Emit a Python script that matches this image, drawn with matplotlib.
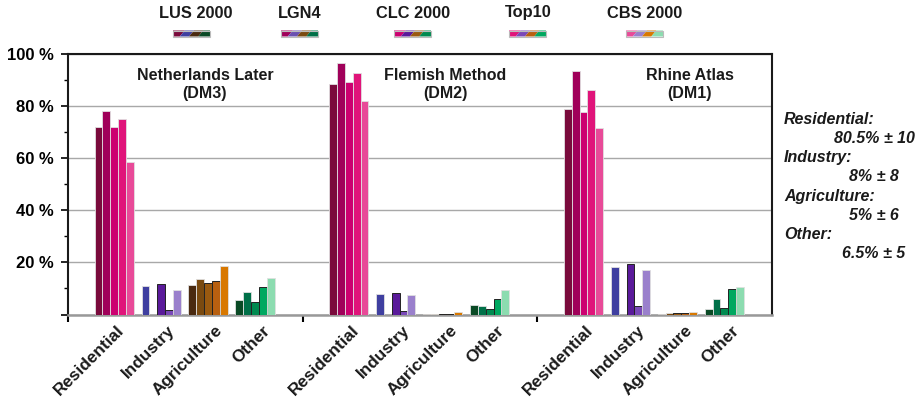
import numpy as np
import matplotlib.pyplot as plt
from matplotlib.patches import Polygon, Rectangle

plt.rcParams['font.family'] = ['Liberation Sans', 'DejaVu Sans']
plt.rcParams['font.weight'] = 'bold'

#___________________________ DATA ___________________________#
sources = ['LUS 2000', 'LGN4', 'CLC 2000', 'Top10', 'CBS 2000']
categories = ['Residential', 'Industry', 'Agriculture', 'Other']
methods = ['Netherlands Later\n(DM3)', 'Flemish Method\n(DM2)', 'Rhine Atlas\n(DM1)']

# values in %, one list per category, in the order of sources
dm3 = [[71.7, 77.9, 71.7, 74.9, 58.4],
       [11.0, 0.0, 11.7, 1.7, 9.4],
       [11.3, 13.6, 12.1, 12.7, 18.6],
       [5.6, 8.6, 4.8, 10.7, 13.9]]
dm2 = [[88.3, 96.2, 89.0, 92.5, 81.9],
       [7.7, 0.0, 8.2, 1.3, 7.5],
       [0.2, 0.3, 0.3, 0.3, 1.0],
       [3.8, 3.3, 2.1, 6.1, 9.4]]
dm1 = [[78.6, 93.4, 77.6, 86.1, 71.6],
       [18.3, 0.0, 19.3, 3.1, 17.2],
       [0.3, 0.7, 0.7, 0.7, 0.8],
       [2.2, 5.8, 2.5, 9.8, 10.4]]
all_methods = [dm3, dm2, dm1]

summary_heads = ['Residential:', 'Industry:', 'Agriculture:', 'Other:']
summary_vals = ['80.5% \u00b1 10', '8% \u00b1 8', '5% \u00b1 6', '6.5% \u00b1 5']

# colours[source][category]
colours = [['#7a0a3c', '#3f3fa0', '#4a2a10', '#0a4a25'],
           ['#a0005a', '#6a50b0', '#7a4a10', '#007048'],
           ['#cc0070', '#5a1a9a', '#9a5a10', '#008a50'],
           ['#e0147a', '#7a48b8', '#b86010', '#00a860'],
           ['#e84a98', '#9a80cc', '#d87800', '#8cdcb0']]

#___________________________ PLOT ___________________________#
W, H = 921, 401
fig = plt.figure(figsize=(W / 100, H / 100), dpi=100)
ax = fig.add_axes([68 / W, 1 - 314.5 / H, (772 - 68) / W, (314.5 - 53.5) / H])

slots = 30  # bar slots per method group
lead = 3.4
lab_shift = [0.3, 0.8, 0.9, 0.9]  # label offset per category (in slots)
centres = []
for g, data in enumerate(all_methods):
    for c in range(len(categories)):
        for s in range(len(sources)):
            x = g * slots + lead + c * 6 + s + 0.5
            if c > 0 and s in (2, 3):
                ec, lw = '#222222', 0.7
            else:
                ec, lw = '#e0e0e0', 0.6
            ax.bar(x, data[c][s], width=1.0, color=colours[s][c],
                   edgecolor=ec, linewidth=lw, zorder=3)
        centres.append(g * slots + lead + c * 6 + 2.5 + lab_shift[c])

titles_x = [17.5, 48.2, 79.5]
for g, t in enumerate(methods):
    ax.text(titles_x[g], 88, t, ha='center', va='center', fontsize=11.5,
            fontweight='bold', linespacing=1.25, color='#1a1a1a', zorder=4)

ax.set_xlim(0, 90)
ax.set_ylim(0, 100)
ax.set_yticks(np.arange(0, 101, 20))
ax.set_yticklabels([''] + ['%d %%' % v for v in range(20, 101, 20)], fontsize=12,
                   fontweight='bold')
ax.set_yticks(np.arange(0, 101, 10), minor=True)
ax.yaxis.grid(True, which='major', color='#a8a8a8', linewidth=1.0)
ax.set_axisbelow(True)

ax.set_xticks([0, 30, 60])
ax.set_xticklabels(['', '', ''])
ax.set_xticks(centres, minor=True)
ax.set_xticklabels(categories * 3, minor=True, rotation=45, ha='right',
                   rotation_mode='anchor', fontsize=12.3, fontweight='bold',
                   color='#1a1a1a')
ax.tick_params(axis='x', which='minor', length=0, pad=6)
ax.tick_params(axis='x', which='major', length=5, width=1.5, direction='out')
ax.tick_params(axis='y', which='major', length=5, width=1.2, direction='out', pad=5)
ax.tick_params(axis='y', which='minor', length=3, width=1.0, direction='out')

for side in ['left', 'top', 'right']:
    ax.spines[side].set_color('#1a1a1a')
    ax.spines[side].set_linewidth(1.5)
ax.spines['bottom'].set_color('#999999')
ax.spines['bottom'].set_linewidth(1.8)

# legend: label + four-colour striped swatch
leg_x = [173, 281, 394, 509, 626]
leg_lab_x = [196, 300, 413, 528, 645]
leg_lab_y = [14, 14, 14, 12, 14]
sw_w, sw_h, sw_y = 37, 6, 30.5
for s, name in enumerate(sources):
    x0 = leg_x[s]
    fig.text(leg_lab_x[s] / W, 1 - leg_lab_y[s] / H, name, ha='center',
             va='center', fontsize=11.8, fontweight='bold', color='#1a1a1a')
    seg = sw_w / 4
    sk = 2.5
    for c in range(4):
        xa = x0 + c * seg
        xb = xa + seg
        pts_px = [(max(x0, xa - sk), sw_y + sw_h), (max(x0, xa + sk), sw_y),
                  (min(x0 + sw_w, xb + sk), sw_y), (min(x0 + sw_w, xb - sk), sw_y + sw_h)]
        if c == 0:
            pts_px[0] = (x0, sw_y + sw_h)
            pts_px[1] = (x0, sw_y)
        if c == 3:
            pts_px[2] = (x0 + sw_w, sw_y)
            pts_px[3] = (x0 + sw_w, sw_y + sw_h)
        pts = [(px / W, 1 - py / H) for px, py in pts_px]
        fig.patches.append(Polygon(pts, closed=True, facecolor=colours[s][c],
                                   edgecolor='none', transform=fig.transFigure))
    fig.patches.append(Rectangle((x0 / W, 1 - (sw_y + sw_h) / H), sw_w / W, sw_h / H,
                                 facecolor='none', edgecolor='#bbbbbb', linewidth=0.8,
                                 transform=fig.transFigure))

# summary text on the right
for i in range(4):
    y_head = 119 + i * 38.5
    fig.text(784 / W, 1 - y_head / H, summary_heads[i], ha='left', va='center',
             fontsize=11.5, fontweight='bold', style='italic', color='#1a1a1a')
    fig.text(874 / W, 1 - (y_head + 19.5) / H, summary_vals[i], ha='center',
             va='center', fontsize=11.5, fontweight='bold', style='italic',
             color='#1a1a1a')

fig.savefig('out.png', dpi=100)
